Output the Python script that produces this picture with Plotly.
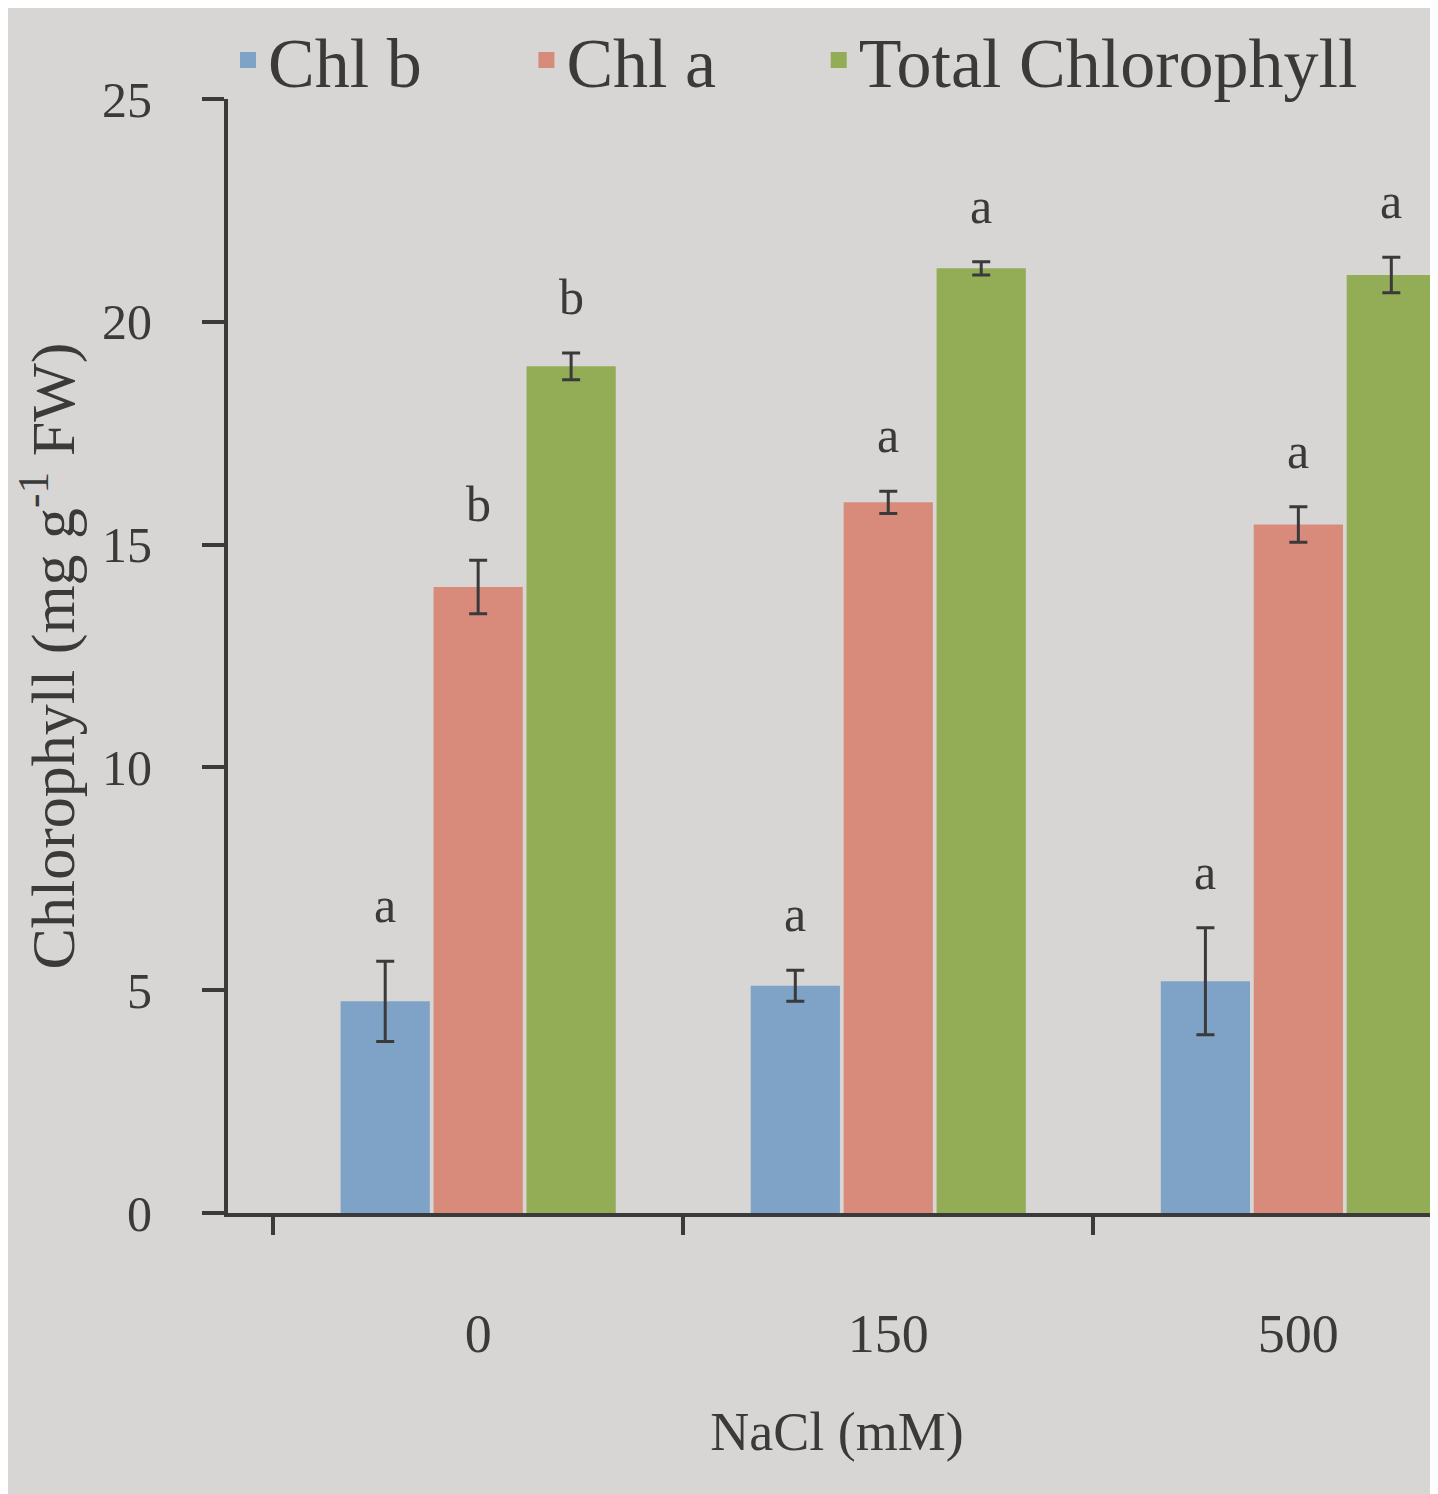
import plotly.graph_objects as go

categories = ["0", "150", "500"]
series_names = ["Chl b", "Chl a", "Total Chlorophyll"]
chl_b = [4.75, 5.1, 5.2]
chl_b_err = [0.9, 0.35, 1.2]
chl_a = [14.05, 15.95, 15.45]
chl_a_err = [0.6, 0.25, 0.4]
total = [19.0, 21.2, 21.05]
total_err = [0.3, 0.15, 0.4]
letters_b = ["a", "a", "a"]
letters_a = ["b", "a", "a"]
letters_t = ["b", "a", "a"]

colors = ["#7fa3c6", "#d98b7b", "#93ad57"]
bg = "#d8d6d4"
ink = "#3a3a3a"
font_family = "Liberation Serif, Times New Roman, serif"

values = [chl_b, chl_a, total]
errs = [chl_b_err, chl_a_err, total_err]
letters = [letters_b, letters_a, letters_t]

fig = go.Figure()
for name, v, e, c in zip(series_names, values, errs, colors):
    fig.add_trace(go.Bar(
        name=name, x=categories, y=v, marker=dict(color=c, line=dict(width=0)),
        error_y=dict(type="data", array=e, visible=True, color=ink, thickness=3, width=9),
        showlegend=False,
    ))
# legend entries with larger square swatches, each in its own legend box
legend_ids = ["legend", "legend2", "legend3"]
for name, c, lid in zip(series_names, colors, legend_ids):
    fig.add_trace(go.Scatter(
        name=name, x=[None], y=[None], mode="markers",
        marker=dict(symbol="square", size=22, color=c), showlegend=True, legend=lid,
    ))

bargap = 0.32
groupgap = 0.04
slot = (1 - bargap) / 3
for si in range(3):
    for ci in range(3):
        fig.add_annotation(
            x=ci + (si - 1) * slot, y=values[si][ci] + errs[si][ci],
            xref="x", yref="y", text=letters[si][ci], showarrow=False,
            yanchor="bottom", yshift=26,
            font=dict(family=font_family, size=50, color=ink),
        )

legend_style = dict(orientation="h", xanchor="left", y=1.035, yanchor="middle",
                    font=dict(size=70, color=ink), bgcolor="rgba(0,0,0,0)",
                    itemwidth=30, itemsizing="trace")
fig.update_layout(
    width=1438, height=1494,
    paper_bgcolor=bg, plot_bgcolor=bg,
    barmode="group", bargap=bargap, bargroupgap=groupgap,
    margin=dict(l=220, r=0, t=90, b=289),
    font=dict(family=font_family, color=ink),
    showlegend=True,
    legend=dict(x=0.0, **legend_style),
    legend2=dict(x=0.245, **legend_style),
    legend3=dict(x=0.485, **legend_style),
)
fig.update_xaxes(
    type="category", range=[-0.61, 2.36],
    showline=True, linecolor=ink, linewidth=4,
    ticks="outside", tickson="boundaries", ticklen=18, tickwidth=4, tickcolor=ink,
    tickfont=dict(size=54, color=ink), ticklabelstandoff=70,
    showgrid=False, zeroline=False,
    title=dict(text="NaCl (mM)", font=dict(size=54, color=ink), standoff=50),
)
fig.update_yaxes(
    range=[0, 25], tickvals=[0, 5, 10, 15, 20, 25],
    showline=True, linecolor=ink, linewidth=4,
    ticks="outside", ticklen=22, tickwidth=4, tickcolor=ink,
    tickfont=dict(size=50, color=ink), ticklabelstandoff=40,
    showgrid=False, zeroline=False,
    title=dict(text="Chlorophyll (mg g<sup>-1</sup> FW)", font=dict(size=62, color=ink), standoff=8),
)

fig.write_html("out.html")
